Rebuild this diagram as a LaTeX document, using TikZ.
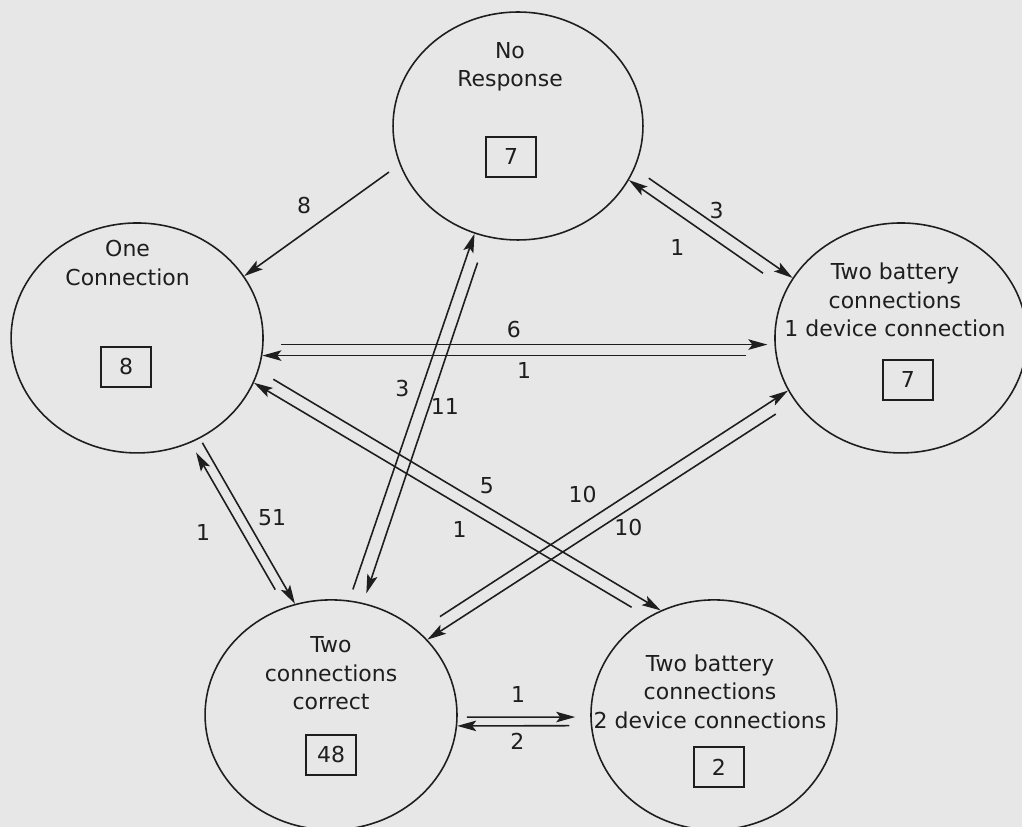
\documentclass[tikz,border=0pt]{standalone}
\usepackage{fontspec}
\setmainfont{DejaVu Sans}
\usetikzlibrary{arrows.meta}
\usetikzlibrary{positioning}
\usetikzlibrary{shapes.geometric}

\definecolor{paper}{RGB}{231,231,231}
\definecolor{ink}{RGB}{30,30,30}

\begin{document}
\begin{tikzpicture}[x=0.02cm, y=-0.02cm, color=ink, line width=0.9pt,               % one unit = one pixel of the scan
                        >={Stealth[length=0.38cm, width=0.21cm, inset=0.08cm]}, on grid,   % arrow tips, placement
                        state/.style = {ellipse, draw, minimum width=5.04cm, minimum height=4.6cm, inner sep=0pt},
                        caption/.style = {align=center, font=\fontsize{12.5}{16.2}\selectfont, inner sep=0pt},
                        count/.style = {rectangle, draw, minimum width=1cm, minimum height=0.8cm, font=\fontsize{12.5}{15}\selectfont, inner sep=0pt},
                        num/.style = {font=\fontsize{12.5}{15}\selectfont, inner sep=0pt}]
        \fill[paper] (0,0) rectangle (1022,827);
        \useasboundingbox (0,0) rectangle (1022,827);
        % categories
        \node[state, minimum width=5cm, minimum height=4.56cm] (nr) at (518,126) {};
        \node[state] (oc) [below left =4.24cm and 7.62cm of nr] {};
        \node[state] (tb1) [below right =4.24cm and 7.66cm of nr] {};
        \node[state] (tc) [below right =7.54cm and 3.88cm of oc] {};
        \node[state, minimum width=4.92cm] (tb2) [right =7.66cm of tc] {};
        % names and totals
        \node[caption] (nr-txt) [above left =1.18cm and 0.16cm of nr] {No\\Response};
        \node[count] (nr-n) [below left =0.62cm and 0.14cm of nr] {7};
        \node[caption] (oc-txt) [above left =1.5cm and 0.19cm of oc] {One\\Connection};
        \node[count] (oc-n) [below left =0.58cm and 0.22cm of oc] {8};
        \node[caption] (tb1-txt) [above left =0.76cm and 0.12cm of tb1] {Two battery\\connections\\1 device connection};
        \node[count] (tb1-n) [below right =0.84cm and 0.14cm of tb1] {7};
        \node[caption] (tc-txt) [above =0.83cm of tc] {Two\\connections\\correct};
        \node[count] (tc-n) [below =0.8cm of tc] {48};
        \node[caption] (tb2-txt) [above left =0.47cm and 0.08cm of tb2] {Two battery\\connections\\2 device connections};
        \node[count] (tb2-n) [below right =1.04cm and 0.1cm of tb2] {2};
        %edge:changes
        \path[->]
            (nr.198) edge[shorten <=0.26cm] node[num, pos=.53, shift={(-13,-18)}] (c1) {8} (oc.30)
            (nr.340) edge[shorten <=0.34cm] node[num, pos=.48, shift={(6,-11)}] (c2) {3} (tb1.151)
            (tb1.157) edge[shorten <=0.56cm] node[num, pos=.59, shift={(-16,23)}] (c3) {1} (nr.334)
            (oc.357) edge[shorten <=0.35cm, shorten >=0.14cm] node[num, pos=.49, shift={(0,-15)}] (c4) {6} (tb1.183)
            (tb1.188) edge[shorten <=0.59cm] node[num, pos=.49, shift={(0,15)}] (c5) {1} (oc.352)
            (oc.345) edge[shorten <=0.34cm] node[num, pos=.545, shift={(9,-16)}] (c6) {5} (tb2.117)
            (tb2.124) edge[shorten <=0.38cm] node[num, pos=.45, shift={(-11,18)}] (c7) {1} (oc.339)
            (tc.113) edge[shorten <=0.4cm, shorten >=0.22cm] node[num, pos=.56, shift={(-29,17)}] (c8) {1} (oc.297)
            (oc.302) edge[shorten <=0.1cm] node[num, pos=.55, shift={(20,-12)}] (c9) {51} (tc.108)
            (tc.81) edge[shorten <=0.23cm] node[num, pos=.56, shift={(-17,-6)}] (c10) {3} (nr.248)
            (nr.254) edge[shorten <=0.54cm, shorten >=0.2cm] node[num, pos=.45, shift={(14,5)}] (c11) {11} (tc.74)
            (tc.44) edge[shorten <=0.52cm] node[num, pos=.48, shift={(-13,-21)}] (c12) {10} (tb1.205)
            (tb1.211) edge[shorten <=0.46cm] node[num, pos=.475, shift={(8,13)}] (c13) {10} (tc.38)
            (tc.359) edge[shorten <=0.18cm, shorten >=0.3cm] node[num, pos=.455, shift={(0,-23)}] (c14) {1} (tb2.181)
            (tb2.185) edge[shorten <=0.43cm] node[num, pos=.55, shift={(0,16)}] (c15) {2} (tc.355);
    \end{tikzpicture}
\end{document}
